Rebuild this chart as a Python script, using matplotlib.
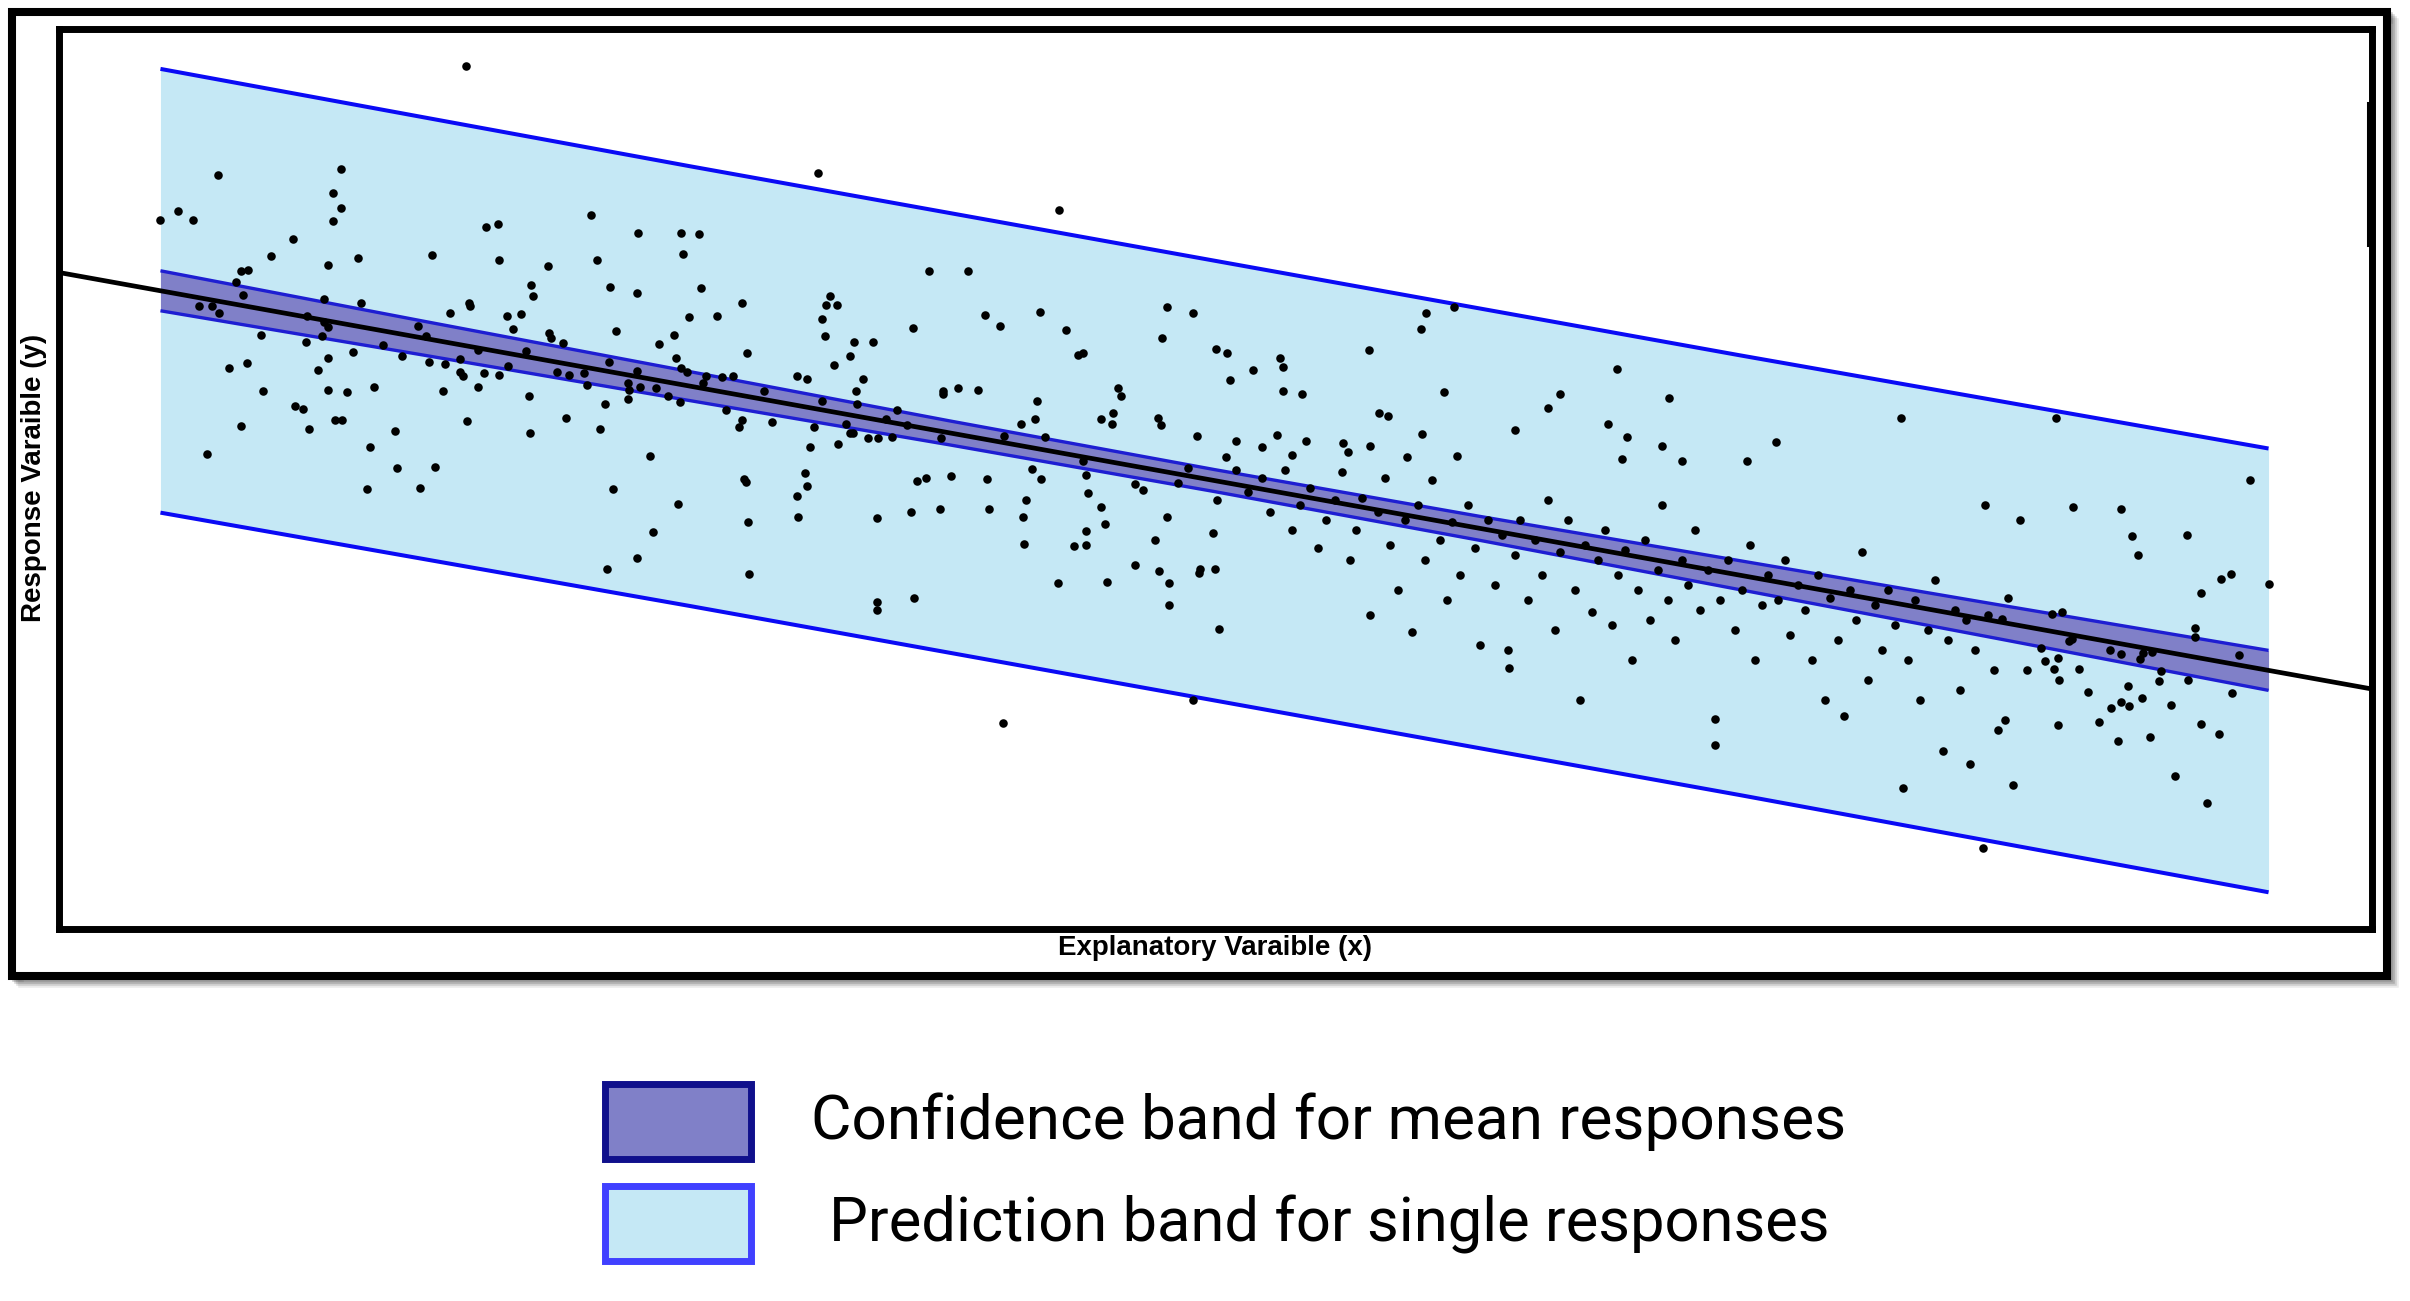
import numpy as np
import matplotlib
matplotlib.use("Agg")
import matplotlib.pyplot as plt
from matplotlib.patches import Rectangle
from matplotlib.lines import Line2D

W, H = 2410, 1301

# ######## # Data (x = explanatory, y = response, arbitrary units)
x_pts = [
    46.6, 21.8, 34.1, 33.3, 34.1, 33.3, 16.0, 17.8, 19.3, 29.3, 27.1, 35.8, 32.8, 43.2, 48.6, 49.8,
    49.9, 59.1, 63.8, 68.1, 68.3, 59.7, 54.8, 53.1, 53.3, 61.0, 63.7, 68.9, 24.1, 24.8, 23.6, 24.3,
    19.9, 21.2, 21.9, 32.4, 36.1, 30.7, 32.4, 32.8, 26.1, 32.2, 30.6, 38.3, 35.3, 32.8, 40.2, 41.8,
    42.6, 46.9, 47.0, 45.0, 50.7, 52.1, 51.3, 54.9, 55.1, 56.3, 61.6, 65.9, 67.4, 67.6, 68.1, 68.7,
    63.7, 60.9, 58.4, 58.7, 62.8, 62.9, 64.0, 65.6, 66.8, 68.0, 62.8, 60.5, 56.9, 55.7, 52.6, 50.8,
    49.9, 48.4, 47.8, 46.0, 46.0, 46.3, 47.8, 44.5, 42.9, 44.3, 52.9, 22.9, 24.7, 31.8, 26.3, 32.8,
    34.7, 37.4, 29.5, 30.3, 33.5, 34.2, 24.1, 30.9, 39.5, 46.7, 53.0, 56.6, 60.0, 37.0, 20.7, 65.0,
    39.7, 43.5, 36.7, 42.0, 61.3, 67.8, 65.3, 63.7, 60.7,
    81.8, 105.9, 69.9, 70.1, 74.2, 71.7, 83.0, 82.6, 83.7, 82.2, 82.5, 85.4, 87.3, 85.0, 74.7, 83.4,
    92.9, 96.8, 91.3, 98.5, 100.0, 104.0, 106.6, 107.8, 108.3, 116.7, 119.3, 116.2, 121.6, 122.7, 123.0,
    79.7, 80.7, 70.6, 72.2, 73.3, 70.3, 76.4, 86.3, 85.6, 82.2, 85.7, 72.6, 74.2, 73.9, 77.2, 81.4,
    84.6, 85.0, 85.3, 86.8, 87.8, 89.2, 81.0, 83.8, 89.7, 88.6, 90.7, 94.3, 94.3, 95.8, 97.8, 94.1,
    103.7, 103.5, 102.1, 100.4, 104.5, 111.8, 112.1, 111.3, 110.1, 111.2, 115.8, 116.1, 119.7, 122.6,
    74.4, 74.6, 80.5, 80.7, 79.7, 79.8, 74.8, 74.9, 87.7, 91.1, 91.7, 92.6, 95.1, 98.7, 94.0, 98.9,
    103.2, 104.1, 102.6, 102.3, 102.4, 108.3, 108.6, 108.8, 110.1, 110.5, 108.6, 107.4, 108.6, 105.8,
    110.7, 113.5, 114.3, 118.8, 117.8, 121.7, 116.7, 121.3, 115.5, 113.5, 115.9, 116.9, 116.9, 119.9,
    120.0, 121.5, 121.9, 87.7, 87.7, 91.4, 100.3, 119.3,
    145.4, 142.6, 142.1, 136.9, 128.0, 128.3, 125.3, 128.3, 130.2, 144.4, 137.9, 138.8, 161.7, 156.0,
    154.8, 166.9, 151.5, 142.2, 160.8, 162.7, 166.2, 123.6, 126.2, 127.7, 130.6, 129.2, 134.3, 134.8,
    137.0, 140.7, 145.7, 162.2, 168.2, 174.7, 190.1, 205.6, 177.6,
    213.8, 222.1, 223.1, 226.9, 220.1, 200.8, 205.2, 206.2, 200.2, 219.5, 219.5, 206.9, 207.2, 204.1,
    211.0, 212.1, 214.3, 214.0, 215.2, 223.9, 204.5, 205.8, 202.7, 205.4, 207.9, 205.9, 216.1, 215.9,
    218.8, 223.2, 208.8, 212.8, 214.2, 212.1, 212.9, 211.1, 217.1, 200.5, 205.8, 209.9, 220.1, 221.9,
    211.8, 215.0, 217.5, 201.3, 220.7,
    123.6, 124.8, 126.2, 127.0, 128.5, 129.2, 130.0, 131.0, 131.8, 132.6, 133.5, 134.2, 135.0, 135.6,
    136.2, 137.0, 137.8, 138.5, 139.0, 139.8, 140.5, 141.2, 141.8, 142.5, 143.2, 144.0, 144.7, 145.2,
    146.0, 146.8, 147.5, 148.0, 148.8, 149.5, 150.2, 150.8, 150.9, 151.5, 152.0, 152.8, 153.5, 154.2,
    154.8, 155.5, 156.0, 156.8, 157.5, 158.0, 158.5, 159.2, 159.8, 160.5, 161.2, 161.8, 162.5, 163.2,
    163.8, 164.5, 165.0, 165.8, 166.2, 166.8, 167.5, 168.2, 168.8, 169.5, 170.0, 170.8, 171.5, 171.5,
    172.0, 172.8, 173.5, 174.2, 175.0, 175.5, 176.2, 176.8,
    177.8, 178.5, 179.0, 179.8, 180.5, 181.2, 181.8, 182.5, 183.0, 183.8, 184.4, 185.0, 185.6, 186.2,
    186.8, 187.5, 188.2, 188.8, 189.5, 190.3, 190.8, 191.5, 192.0, 192.8, 193.5, 194.3, 194.8, 195.5,
    196.0, 196.6, 197.0, 197.5, 198.3, 198.8, 199.4, 199.8,
    207.3, 212.1, 213.2, 218.7, 202.0, 225.0, 198.5,
]
y_pts = [
    93.4, 82.5, 83.1, 80.7, 79.2, 77.9, 78.0, 78.9, 78.0, 76.1, 74.4, 74.2, 73.5, 74.5, 77.3, 77.6,
    74.0, 78.5, 76.7, 76.7, 74.6, 74.0, 73.4, 71.5, 70.4, 71.3, 70.7, 68.3, 72.9, 73.0, 71.8, 70.5,
    69.4, 69.4, 68.7, 70.1, 69.7, 68.4, 67.8, 67.3, 66.5, 66.4, 65.8, 65.5, 64.8, 64.2, 64.4, 67.4,
    66.4, 69.7, 69.4, 68.7, 68.4, 68.6, 67.1, 66.7, 66.2, 65.7, 66.9, 65.6, 66.5, 64.2, 63.2, 62.8,
    62.9, 63.8, 62.7, 61.5, 61.7, 61.0, 61.3, 61.2, 60.4, 59.8, 60.1, 59.6, 62.5, 62.8, 64.9, 63.4,
    62.5, 62.7, 65.0, 64.1, 62.8, 62.4, 61.3, 63.6, 63.8, 60.9, 60.4, 63.2, 63.7, 63.0, 60.9, 61.0,
    60.8, 61.3, 59.4, 59.1, 58.0, 58.0, 57.4, 57.1, 56.9, 57.9, 56.7, 58.2, 57.1, 55.3, 54.6, 54.4,
    53.2, 53.3, 51.1, 51.2, 51.1, 49.6, 46.8, 44.2, 43.1,
    82.7, 79.0, 76.6, 71.2, 69.7, 68.4, 70.4, 69.5, 69.5, 68.1, 66.4, 65.8, 65.8, 64.4, 64.7, 63.5,
    72.9, 72.9, 67.2, 68.5, 67.4, 68.8, 67.0, 64.5, 64.7, 69.3, 68.7, 66.2, 65.1, 64.7, 62.0,
    62.4, 62.1, 62.4, 62.3, 62.4, 61.7, 60.9, 62.1, 60.9, 59.9, 59.6, 59.0, 58.0, 57.3, 57.8, 57.3,
    57.6, 56.7, 56.7, 56.2, 56.2, 56.3, 55.3, 55.6, 59.0, 58.1, 57.5, 60.9, 60.6, 61.2, 61.0, 56.2,
    59.9, 58.1, 57.6, 56.4, 56.3, 61.2, 60.4, 58.7, 58.1, 57.6, 58.2, 57.5, 56.4, 54.3,
    52.1, 51.8, 52.7, 51.4, 50.4, 48.3, 47.8, 42.6, 48.2, 48.8, 51.9, 52.2, 52.4, 52.1, 49.1, 49.1,
    53.1, 52.1, 50.0, 48.3, 45.6, 53.9, 52.5, 50.7, 49.3, 47.6, 46.9, 45.4, 45.5, 41.7,
    41.8, 51.6, 51.0, 53.2, 51.7, 50.0, 48.3, 46.7, 46.0, 43.5, 42.9, 41.7, 39.5, 42.7,
    43.1, 43.1, 37.1, 39.8, 39.0, 40.2, 27.7, 30.0,
    69.3, 68.7, 67.1, 65.0, 64.2, 63.3, 63.0, 60.9, 60.6, 60.8, 58.7, 58.4, 63.1, 60.6,
    59.2, 60.2, 57.0, 56.6, 57.6, 56.3, 55.4, 55.9, 55.3, 56.5, 55.9, 54.5, 55.7, 54.8,
    55.4, 54.3, 54.4, 54.1, 53.9, 53.9, 58.2, 58.2, 55.8,
    44.5, 42.1, 42.6, 41.6, 40.7, 40.2, 38.6, 38.8, 38.1, 37.2, 36.3, 35.9, 36.1, 35.2,
    35.0, 34.6, 34.7, 34.1, 34.8, 34.5, 33.9, 34.2, 33.0, 33.1, 33.1, 32.0, 32.9, 31.9,
    32.0, 30.7, 30.8, 31.4, 30.2, 29.8, 29.4, 29.2, 29.5, 28.0, 27.5, 27.8, 27.6, 26.6,
    25.9, 26.3, 22.4, 21.5, 19.7,
    53.0, 50.8, 52.2, 48.8, 53.0, 47.0, 49.5, 51.2, 45.2, 48.0, 50.0, 52.8, 44.0, 47.0,
    50.2, 38.5, 48.8, 52.2, 45.5, 41.0, 48.0, 36.8, 49.5, 44.0, 52.0, 46.0, 40.0, 47.8,
    42.5, 49.5, 45.2, 35.5, 48.0, 41.5, 46.5, 35.0, 33.2, 44.5, 48.0, 40.0, 46.0, 42.5,
    50.0, 37.0, 44.8, 48.0, 41.0, 30.0, 45.5, 38.8, 44.0, 47.0, 37.5, 42.5, 45.0, 34.0,
    41.0, 46.0, 38.0, 43.0, 49.5, 40.0, 36.0, 44.0, 41.5, 47.0, 39.0, 43.0, 28.1, 25.5,
    40.0, 44.0, 37.0, 41.0, 45.5, 34.0, 39.5, 42.5,
    40.0, 44.0, 36.5, 41.5, 39.0, 34.0, 42.5, 30.0, 40.2, 36.0, 28.4, 41.0, 38.0, 44.8,
    32.0, 39.5, 35.0, 41.0, 37.5, 21.2, 34.0, 40.0, 30.0, 37.0, 42.0, 24.9, 36.0, 39.0,
    31.0, 38.0, 23.6, 35.0, 15.2, 38.5, 33.0, 27.0,
    49.3, 49.1, 46.4, 46.5, 48.0, 52.0, 49.5,
]

b0, b1 = 73.84, -0.1801

# band half widths at a few x positions along the fit
band_x = [16.0, 42.0, 69.0, 95.0, 121.5, 148.0, 174.0, 200.0, 226.9]
conf_half = [2.0, 1.7, 1.45, 1.2, 1.1, 1.2, 1.45, 1.7, 2.0]
pred_half = [22.2, 22.1, 22.0, 22.0, 22.0, 22.0, 22.0, 22.1, 22.2]

legend_labels = ["Confidence band for mean responses", "Prediction band for single responses"]

PRED_FILL = "#C5E8F5"
PRED_EDGE = "#0A0AF5"
CONF_FILL = "#8080C8"
CONF_EDGE = "#1E1ED2"

fig = plt.figure(figsize=(W / 100, H / 100), dpi=100)
fig.patch.set_facecolor("white")


def fx(px):
    return px / W


def fy(py):
    return 1 - py / H


# ######## # Outer frame with soft shadow
for k, a in zip([9, 7, 5, 3], [0.08, 0.12, 0.16, 0.2]):
    fig.patches.append(Rectangle((fx(12 + k), fy(976 + k)), fx(2387 - 12), (976 - 12) / H,
                                 transform=fig.transFigure, fill=False, lw=4, ec="black",
                                 alpha=a, zorder=0))
fig.patches.append(Rectangle((fx(12), fy(976)), fx(2387 - 12), (976 - 12) / H,
                             transform=fig.transFigure, fill=True, fc="white", lw=5.8,
                             ec="black", zorder=1))

# ######## # Axes
ax = fig.add_axes([fx(58.5), fy(929), fx(2371.5 - 58.5), (929 - 28.5) / H])
ax.set_zorder(2)
ax.set_xlim(5.8, 237.2)
ax.set_ylim(7.1, 97.2)
ax.set_xticks([])
ax.set_yticks([])
for s in ax.spines.values():
    s.set_linewidth(5)
    s.set_color("black")

bx = np.array(band_x)
yfit = b0 + b1 * bx
ph = np.array(pred_half)
ch = np.array(conf_half)

ax.fill_between(bx, yfit - ph, yfit + ph, color=PRED_FILL, lw=0, zorder=1)
ax.plot(bx, yfit + ph, color=PRED_EDGE, lw=2.9, zorder=2, solid_capstyle="butt")
ax.plot(bx, yfit - ph, color=PRED_EDGE, lw=2.9, zorder=2, solid_capstyle="butt")

ax.fill_between(bx, yfit - ch, yfit + ch, color=CONF_FILL, lw=0, zorder=3)
ax.plot(bx, yfit + ch, color=CONF_EDGE, lw=2.4, zorder=4, solid_capstyle="butt")
ax.plot(bx, yfit - ch, color=CONF_EDGE, lw=2.4, zorder=4, solid_capstyle="butt")

xl = np.array(ax.get_xlim())
ax.plot(xl, b0 + b1 * xl, color="black", lw=3.4, zorder=5)

ax.scatter(x_pts, y_pts, s=38, color="black", linewidths=0, zorder=6)

# slightly thicker bit of the right spine
fig.lines.append(Line2D([fx(2368), fx(2368)], [fy(103), fy(245)], transform=fig.transFigure,
                        color="black", lw=2.2, zorder=5))

# ######## # Axis titles
fig.text(fx(1215), fy(948), "Explanatory Varaible (x)", ha="center", va="center",
         fontsize=20, fontweight="bold", family="Liberation Sans", zorder=3)
fig.text(fx(34), fy(478), "Response Varaible (y)", ha="center", va="center", rotation=90,
         fontsize=20, fontweight="bold", family="Liberation Sans", zorder=3)

# ######## # Legend
boxes = [(1083.5, 1158.5, CONF_FILL, "#10108C"), (1185.5, 1260.5, PRED_FILL, "#4040FF")]
for (top, bot, fc, ec) in boxes:
    fig.patches.append(Rectangle((fx(604.5), fy(bot)), fx(750.5 - 604.5), (bot - top) / H,
                                 transform=fig.transFigure, fc=fc, ec=ec, lw=5, zorder=3))

targets = [(1329, 1122, 1036), (1329, 1224, 1000)]
texts = []
for lab, (cx, cy, tw) in zip(legend_labels, targets):
    t = fig.text(fx(cx), fy(cy), lab, ha="center", va="center", fontsize=38,
                 family=["Roboto", "Liberation Sans"], zorder=3)
    texts.append((t, tw))

fig.canvas.draw()
r = fig.canvas.get_renderer()
for t, tw in texts:
    w = t.get_window_extent(r).width
    t.set_fontsize(38 * tw / w)

fig.savefig("out.png", dpi=100, facecolor="white")
